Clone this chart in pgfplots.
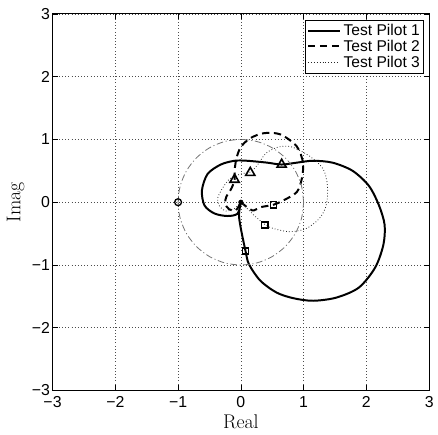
\documentclass[border=0pt]{standalone}
\usepackage{fontspec}
\newfontfamily\arial{Liberation Sans}
\usepackage{pgfplots}
\pgfplotsset{compat=1.18}
\begin{document}
\begin{tikzpicture}
\begin{axis}[
  name=ax,
  width=285pt, height=285pt, scale only axis,
  xmin=-3, xmax=3, ymin=-3, ymax=3,
  xtick={-3,-2,-1,0,1,2,3}, ytick={-3,-2,-1,0,1,2,3},
  xticklabels={−3,−2,−1,0,1,2,3},
  yticklabels={−3,−2,−1,0,1,2,3},
  tick label style={font=\arial\fontsize{12}{13}\selectfont},
  xticklabel style={yshift=-1pt},
  yticklabel style={xshift=1.5pt},
  tick align=inside, tick style={black, line width=0.5pt},
  major tick length=4pt,
  grid=major, grid style={black!70, dotted, line width=0.5pt},
  axis line style={black, line width=0.8pt},
  xlabel={Real}, ylabel={Imag},
  label style={font=\fontsize{15}{16}\selectfont},
  xlabel style={at={(axis description cs:0.5,0)}, anchor=center, yshift=-24pt},
  ylabel style={at={(axis description cs:0,0.5)}, anchor=center, yshift=28pt},
  legend style={at={(0.987,0.985)}, anchor=north east, font=\arial\fontsize{11.8}{13}\selectfont,
    draw=black, line width=0.6pt, inner sep=1pt, row sep=-2pt, cells={anchor=west}},
  legend cell align=left,
  legend image code/.code={\draw[#1] (0cm,0cm) -- (0.85cm,0cm);},
]
\addplot[black, line width=1.5pt, smooth] coordinates {
(0,0) (-0.03,-0.2) (0,-0.42) (0.075,-0.78) (0.13,-0.99) (0.31,-1.25) (0.57,-1.44) (0.84,-1.53) (1.15,-1.57) (1.52,-1.52) (1.88,-1.36) (2.14,-1.04) (2.27,-0.68) (2.29,-0.36) (2.2,-0.05) (2.04,0.26) (1.78,0.5) (1.46,0.63) (1.15,0.66) (0.89,0.63) (0.65,0.6) (0.42,0.63) (0.1,0.66) (-0.1,0.66) (-0.32,0.6) (-0.53,0.45) (-0.62,0.19) (-0.58,-0.05) (-0.42,-0.18) (-0.21,-0.22) (-0.05,-0.18) (0,0)
};
\addlegendentry{Test Pilot 1}
\addplot[black, line width=1.5pt, dash pattern=on 5.5pt off 3.5pt, smooth] coordinates {
(0,0) (0.18,-0.13) (0.31,-0.08) (0.52,-0.04) (0.68,0.03) (0.89,0.16) (0.97,0.37) (0.99,0.63) (0.89,0.89) (0.63,1.08) (0.37,1.1) (0.15,1.02) (0.0,0.88) (-0.07,0.7) (-0.1,0.5) (-0.1,0.36) (-0.15,0.22) (-0.23,0.09) (-0.25,-0.02) (-0.19,-0.11) (-0.08,-0.13) (0,0)
};
\addlegendentry{Test Pilot 2}
\addplot[black!85, line width=0.6pt, dash pattern=on 0.6pt off 1.6pt, smooth] coordinates {
(0,0) (0.13,-0.13) (0.21,-0.21) (0.39,-0.36) (0.52,-0.42) (0.78,-0.47) (1.04,-0.42) (1.25,-0.26) (1.36,-0.05) (1.38,0.26) (1.31,0.53) (1.1,0.73) (0.81,0.88) (0.6,0.88) (0.4,0.78) (0.27,0.6) (0.15,0.48) (0,0.45) (-0.18,0.37) (-0.3,0.21) (-0.37,0.06) (-0.34,-0.06) (-0.24,-0.14) (-0.1,-0.1) (0,0)
};
\addlegendentry{Test Pilot 3}
% unit circle
\addplot[black!55, line width=0.6pt, dash pattern=on 5pt off 2pt on 0.8pt off 2pt, smooth, forget plot] coordinates {
(1,0) (0.966,0.259) (0.866,0.5) (0.707,0.707) (0.5,0.866) (0.259,0.966) (0,1) (-0.259,0.966) (-0.5,0.866) (-0.707,0.707) (-0.866,0.5) (-0.966,0.259) (-1,0) (-0.966,-0.259) (-0.866,-0.5) (-0.707,-0.707) (-0.5,-0.866) (-0.259,-0.966) (0,-1) (0.259,-0.966) (0.5,-0.866) (0.707,-0.707) (0.866,-0.5) (0.966,-0.259) (1,0)
};
% markers
\addplot[only marks, mark=triangle, mark size=4pt, mark options={black, line width=1.2pt, solid}, forget plot] coordinates {(0.65,0.6) (-0.1,0.36) (0.15,0.47)};
\addplot[only marks, mark=square, mark size=2.3pt, mark options={black, line width=1.2pt, solid}, forget plot] coordinates {(0.075,-0.78) (0.52,-0.04) (0.38,-0.36)};
\addplot[only marks, mark=o, mark size=2.6pt, mark options={black, line width=1pt, solid, fill=white}, forget plot] coordinates {(-1,0)};
\addplot[only marks, mark=*, mark size=1.7pt, mark options={black}, forget plot] coordinates {(0,0)};
\end{axis}
\path ([xshift=-39.75pt,yshift=-33pt]ax.south west) rectangle ([xshift=3.75pt,yshift=10.5pt]ax.north east);
\end{tikzpicture}
\end{document}
